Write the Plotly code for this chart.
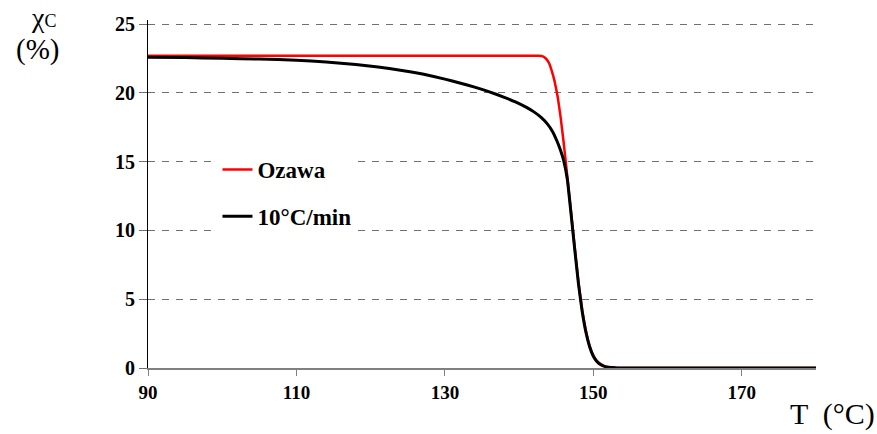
import plotly.graph_objects as go

# Data
ozawa_T = [90, 142.6, 143.2, 143.6, 144.0, 144.4, 144.8, 145.2, 145.6, 146.0, 146.5, 147,
           147.5, 148, 148.5, 149, 149.5, 150, 150.5, 151, 151.5, 152, 153, 154, 180]
ozawa_X = [22.7, 22.7, 22.65, 22.5, 22.2, 21.6, 20.8, 19.7, 18.2, 16.4, 13.9, 11.3,
           8.7, 6.2, 4.2, 2.7, 1.6, 0.9, 0.5, 0.28, 0.14, 0.07, 0.02, 0.0, 0]

rate_T = [90, 95, 100, 105, 110, 114, 118, 121, 124, 127, 130, 132, 134, 136, 138, 139.5,
          141, 142, 143, 143.8, 144.5, 145.1, 145.6, 146, 146.5, 147, 147.5, 148, 148.5,
          149, 149.5, 150, 150.5, 151, 151.5, 152, 153, 154, 180]
rate_X = [22.6, 22.57, 22.52, 22.46, 22.38, 22.25, 22.07, 21.88, 21.65, 21.37, 21.0, 20.72,
          20.42, 20.08, 19.68, 19.35, 18.95, 18.62, 18.2, 17.75, 17.2, 16.5, 15.8, 15.1,
          13.7, 11.2, 8.6, 6.1, 4.1, 2.6, 1.55, 0.85, 0.45, 0.24, 0.12, 0.06, 0.015, 0.0, 0]

x_ticks = [90, 110, 130, 150, 170]
y_ticks = [0, 5, 10, 15, 20, 25]

FONT = "Liberation Serif, Times New Roman, serif"

fig = go.Figure()
fig.add_trace(go.Scatter(x=ozawa_T, y=ozawa_X, mode="lines", name="Ozawa",
                         legendgroup="a",
                         line=dict(color="#ff0000", width=2.5, shape="spline", smoothing=0.3)))
fig.add_trace(go.Scatter(x=rate_T, y=rate_X, mode="lines", name="10°C/min",
                         legendgroup="b",
                         line=dict(color="#000000", width=3, shape="spline", smoothing=0.3)))

Y_TOP = 25.3
PX_PER_UNIT = (368 - 24) / 25
top_margin = round(24 - (Y_TOP - 25) * PX_PER_UNIT)
plot_h = 368 - top_margin

fig.update_layout(
    width=877, height=434,
    margin=dict(l=148, r=61, t=top_margin, b=66),
    paper_bgcolor="white", plot_bgcolor="white",
    font=dict(family=FONT, color="black"),
    showlegend=True,
    legend=dict(x=0.104, y=(368 - 148) / plot_h, xanchor="left", yanchor="top",
                bgcolor="white", borderwidth=0,
                font=dict(family=FONT, size=23, color="black", weight="bold"),
                tracegroupgap=14, itemwidth=30),
    xaxis=dict(range=[90, 180], tickvals=x_ticks, ticktext=[str(v) for v in x_ticks],
               showgrid=False, zeroline=False,
               showline=True, linecolor="#808080", linewidth=2,
               ticks="outside", ticklen=6, tickcolor="#808080", tickwidth=1,
               tickfont=dict(family=FONT, size=19, color="black", weight="bold")),
    yaxis=dict(range=[0, Y_TOP], tickvals=y_ticks, ticktext=[str(v) for v in y_ticks],
               showgrid=True, gridcolor="#707070", gridwidth=1, griddash="7px,7px",
               zeroline=False,
               showline=True, linecolor="black", linewidth=1,
               ticks="outside", ticklen=8, tickcolor="#707070", tickwidth=1,
               tickfont=dict(family=FONT, size=20, color="black", weight="bold")),
    annotations=[
        dict(text="χ<span style='font-size:18px'>C</span>", xref="paper", yref="paper",
             x=(43 - 148) / 668, y=(368 - 18) / plot_h, xanchor="center", yanchor="middle",
             showarrow=False, font=dict(family=FONT, size=28, color="black")),
        dict(text="(%)", xref="paper", yref="paper",
             x=(37 - 148) / 668, y=(368 - 50) / plot_h, xanchor="center", yanchor="middle",
             showarrow=False, font=dict(family=FONT, size=29, color="black")),
        dict(text="T  (°C)", xref="paper", yref="paper",
             x=(877 - 148) / 668, y=(368 - 414) / plot_h, xanchor="right", yanchor="middle",
             showarrow=False, font=dict(family=FONT, size=30, color="black")),
    ],
)

fig.write_html("out.html")
